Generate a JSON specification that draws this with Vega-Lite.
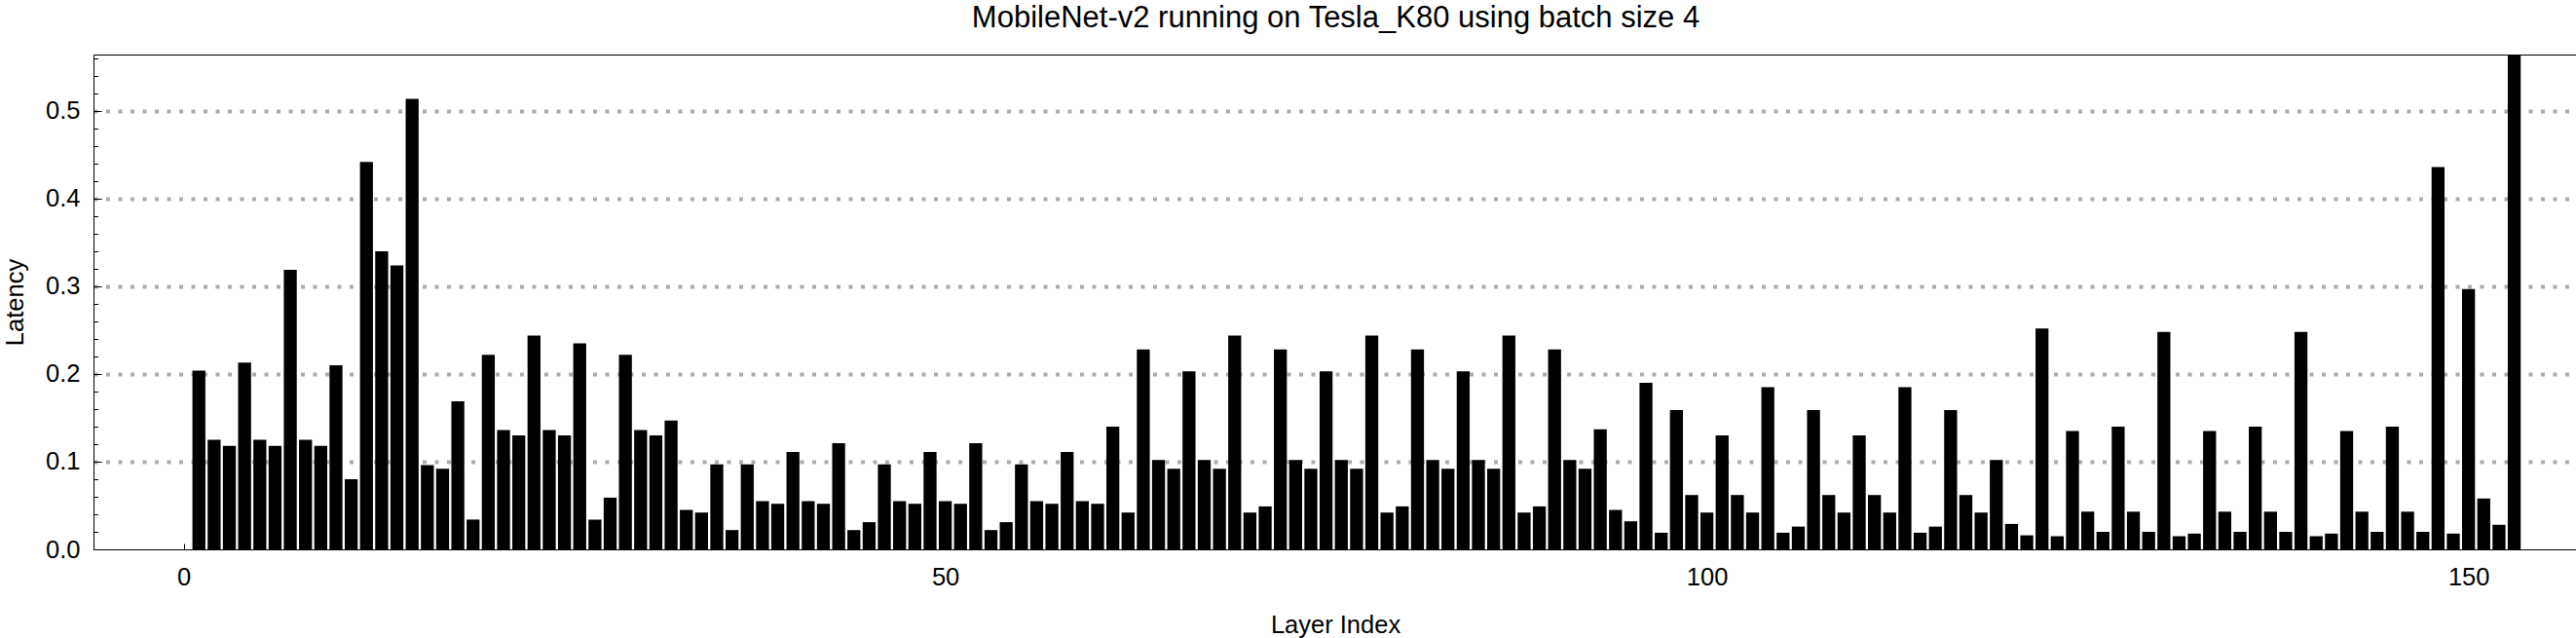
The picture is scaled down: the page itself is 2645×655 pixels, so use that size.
{
  "$schema": "https://vega.github.io/schema/vega-lite/v6.json",
  "autosize": {"type": "none"},
  "width": 2550,
  "height": 508,
  "padding": {"left": 96, "top": 56, "right": 0, "bottom": 91},
  "background": "white",
  "config": {
    "font": "Liberation Sans",
    "view": {"stroke": "black", "strokeWidth": 1},
    "axis": {"domainColor": "black", "domainWidth": 1, "tickColor": "black", "tickWidth": 1, "labelColor": "black", "titleColor": "black", "labelFont": "Liberation Sans", "titleFont": "Liberation Sans", "labelFontSize": 25.5, "titleFontSize": 25.5, "titleFontWeight": "normal"}
  },
  "data": {"values": [
    {"layer": 1, "latency": 0.204}, {"layer": 2, "latency": 0.125}, {"layer": 3, "latency": 0.118}, {"layer": 4, "latency": 0.213}, {"layer": 5, "latency": 0.125},
    {"layer": 6, "latency": 0.118}, {"layer": 7, "latency": 0.319}, {"layer": 8, "latency": 0.125}, {"layer": 9, "latency": 0.118}, {"layer": 10, "latency": 0.210},
    {"layer": 11, "latency": 0.080}, {"layer": 12, "latency": 0.442}, {"layer": 13, "latency": 0.340}, {"layer": 14, "latency": 0.324}, {"layer": 15, "latency": 0.514},
    {"layer": 16, "latency": 0.096}, {"layer": 17, "latency": 0.092}, {"layer": 18, "latency": 0.169}, {"layer": 19, "latency": 0.034}, {"layer": 20, "latency": 0.222},
    {"layer": 21, "latency": 0.136}, {"layer": 22, "latency": 0.130}, {"layer": 23, "latency": 0.244}, {"layer": 24, "latency": 0.136}, {"layer": 25, "latency": 0.130},
    {"layer": 26, "latency": 0.235}, {"layer": 27, "latency": 0.034}, {"layer": 28, "latency": 0.059}, {"layer": 29, "latency": 0.222}, {"layer": 30, "latency": 0.136},
    {"layer": 31, "latency": 0.130}, {"layer": 32, "latency": 0.147}, {"layer": 33, "latency": 0.045}, {"layer": 34, "latency": 0.042}, {"layer": 35, "latency": 0.097},
    {"layer": 36, "latency": 0.022}, {"layer": 37, "latency": 0.097}, {"layer": 38, "latency": 0.055}, {"layer": 39, "latency": 0.052}, {"layer": 40, "latency": 0.111},
    {"layer": 41, "latency": 0.055}, {"layer": 42, "latency": 0.052}, {"layer": 43, "latency": 0.121}, {"layer": 44, "latency": 0.022}, {"layer": 45, "latency": 0.031},
    {"layer": 46, "latency": 0.097}, {"layer": 47, "latency": 0.055}, {"layer": 48, "latency": 0.052}, {"layer": 49, "latency": 0.111}, {"layer": 50, "latency": 0.055},
    {"layer": 51, "latency": 0.052}, {"layer": 52, "latency": 0.121}, {"layer": 53, "latency": 0.022}, {"layer": 54, "latency": 0.031}, {"layer": 55, "latency": 0.097},
    {"layer": 56, "latency": 0.055}, {"layer": 57, "latency": 0.052}, {"layer": 58, "latency": 0.111}, {"layer": 59, "latency": 0.055}, {"layer": 60, "latency": 0.052},
    {"layer": 61, "latency": 0.140}, {"layer": 62, "latency": 0.042}, {"layer": 63, "latency": 0.228}, {"layer": 64, "latency": 0.102}, {"layer": 65, "latency": 0.092},
    {"layer": 66, "latency": 0.203}, {"layer": 67, "latency": 0.102}, {"layer": 68, "latency": 0.092}, {"layer": 69, "latency": 0.244}, {"layer": 70, "latency": 0.042},
    {"layer": 71, "latency": 0.049}, {"layer": 72, "latency": 0.228}, {"layer": 73, "latency": 0.102}, {"layer": 74, "latency": 0.092}, {"layer": 75, "latency": 0.203},
    {"layer": 76, "latency": 0.102}, {"layer": 77, "latency": 0.092}, {"layer": 78, "latency": 0.244}, {"layer": 79, "latency": 0.042}, {"layer": 80, "latency": 0.049},
    {"layer": 81, "latency": 0.228}, {"layer": 82, "latency": 0.102}, {"layer": 83, "latency": 0.092}, {"layer": 84, "latency": 0.203}, {"layer": 85, "latency": 0.102},
    {"layer": 86, "latency": 0.092}, {"layer": 87, "latency": 0.244}, {"layer": 88, "latency": 0.042}, {"layer": 89, "latency": 0.049}, {"layer": 90, "latency": 0.228},
    {"layer": 91, "latency": 0.102}, {"layer": 92, "latency": 0.092}, {"layer": 93, "latency": 0.137}, {"layer": 94, "latency": 0.045}, {"layer": 95, "latency": 0.032},
    {"layer": 96, "latency": 0.190}, {"layer": 97, "latency": 0.019}, {"layer": 98, "latency": 0.159}, {"layer": 99, "latency": 0.062}, {"layer": 100, "latency": 0.042},
    {"layer": 101, "latency": 0.130}, {"layer": 102, "latency": 0.062}, {"layer": 103, "latency": 0.042}, {"layer": 104, "latency": 0.185}, {"layer": 105, "latency": 0.019},
    {"layer": 106, "latency": 0.026}, {"layer": 107, "latency": 0.159}, {"layer": 108, "latency": 0.062}, {"layer": 109, "latency": 0.042}, {"layer": 110, "latency": 0.130},
    {"layer": 111, "latency": 0.062}, {"layer": 112, "latency": 0.042}, {"layer": 113, "latency": 0.185}, {"layer": 114, "latency": 0.019}, {"layer": 115, "latency": 0.026},
    {"layer": 116, "latency": 0.159}, {"layer": 117, "latency": 0.062}, {"layer": 118, "latency": 0.042}, {"layer": 119, "latency": 0.102}, {"layer": 120, "latency": 0.029},
    {"layer": 121, "latency": 0.016}, {"layer": 122, "latency": 0.252}, {"layer": 123, "latency": 0.015}, {"layer": 124, "latency": 0.135}, {"layer": 125, "latency": 0.043},
    {"layer": 126, "latency": 0.020}, {"layer": 127, "latency": 0.140}, {"layer": 128, "latency": 0.043}, {"layer": 129, "latency": 0.020}, {"layer": 130, "latency": 0.248},
    {"layer": 131, "latency": 0.015}, {"layer": 132, "latency": 0.018}, {"layer": 133, "latency": 0.135}, {"layer": 134, "latency": 0.043}, {"layer": 135, "latency": 0.020},
    {"layer": 136, "latency": 0.140}, {"layer": 137, "latency": 0.043}, {"layer": 138, "latency": 0.020}, {"layer": 139, "latency": 0.248}, {"layer": 140, "latency": 0.015},
    {"layer": 141, "latency": 0.018}, {"layer": 142, "latency": 0.135}, {"layer": 143, "latency": 0.043}, {"layer": 144, "latency": 0.020}, {"layer": 145, "latency": 0.140},
    {"layer": 146, "latency": 0.043}, {"layer": 147, "latency": 0.020}, {"layer": 148, "latency": 0.436}, {"layer": 149, "latency": 0.018}, {"layer": 150, "latency": 0.297},
    {"layer": 151, "latency": 0.058}, {"layer": 152, "latency": 0.028}, {"layer": 153, "latency": 0.57}
  ]},
  "layer": [
    {
      "mark": {"type": "bar", "color": "black", "width": 13.3, "clip": true},
      "encoding": {
        "x": {
          "field": "layer", "type": "quantitative",
          "scale": {"domain": [-5.6, 156.8], "nice": false, "zero": false},
          "axis": {
            "title": "Layer Index", "values": [0, 50, 100, 150], "format": "d",
            "grid": false, "tickSize": -6, "labelPadding": 22, "labelFlush": false, "labelOverlap": false,
            "titleX": 1275, "titleY": 85, "titleBaseline": "alphabetic", "titleAlign": "center"
          }
        },
        "y": {
          "field": "latency", "type": "quantitative",
          "scale": {"domain": [0, 0.564444], "nice": false, "zero": true},
          "axis": {
            "title": "Latency",
            "values": [0, 0.02, 0.04, 0.06, 0.08, 0.1, 0.12, 0.14, 0.16, 0.18, 0.2, 0.22, 0.24, 0.26, 0.28, 0.3, 0.32, 0.34, 0.36, 0.38, 0.4, 0.42, 0.44, 0.46, 0.48, 0.5, 0.52, 0.54, 0.56],
            "labelExpr": "abs(datum.value*10 - round(datum.value*10)) < 0.001 ? format(datum.value, '.1f') : ''",
            "labelOverlap": false, "labelFlush": false, "labelPadding": 22,
            "tickSize": {"condition": {"test": "abs(datum.value*10 - round(datum.value*10)) < 0.001", "value": -8}, "value": -4.5},
            "grid": true, "gridColor": "#adadad", "gridWidth": 4, "gridDash": [4, 8.5],
            "gridOpacity": {"condition": {"test": "abs(datum.value*10 - round(datum.value*10)) < 0.001 && datum.value > 0.05", "value": 1}, "value": 0},
            "titleX": -73, "titleY": 254, "titleBaseline": "alphabetic", "titleAlign": "center", "titleAngle": 270
          }
        }
      }
    },
    {
      "mark": {"type": "bar", "opacity": 0, "width": 1, "clip": true},
      "encoding": {
        "x": {
          "field": "layer", "type": "quantitative",
          "scale": {"domain": [-5.6, 156.8], "nice": false, "zero": false},
          "axis": {
            "orient": "top", "title": "MobileNet-v2 running on Tesla_K80 using batch size 4",
            "titleFontSize": 31, "titleFont": "Liberation Sans", "titleFontWeight": "normal", "titleColor": "black",
            "domain": false, "ticks": false, "labels": false, "grid": false,
            "titleX": 1275, "titleY": -29, "titleBaseline": "alphabetic", "titleAlign": "center", "titleAngle": 0
          }
        }
      }
    }
  ],
  "resolve": {"axis": {"x": "independent"}}
}
